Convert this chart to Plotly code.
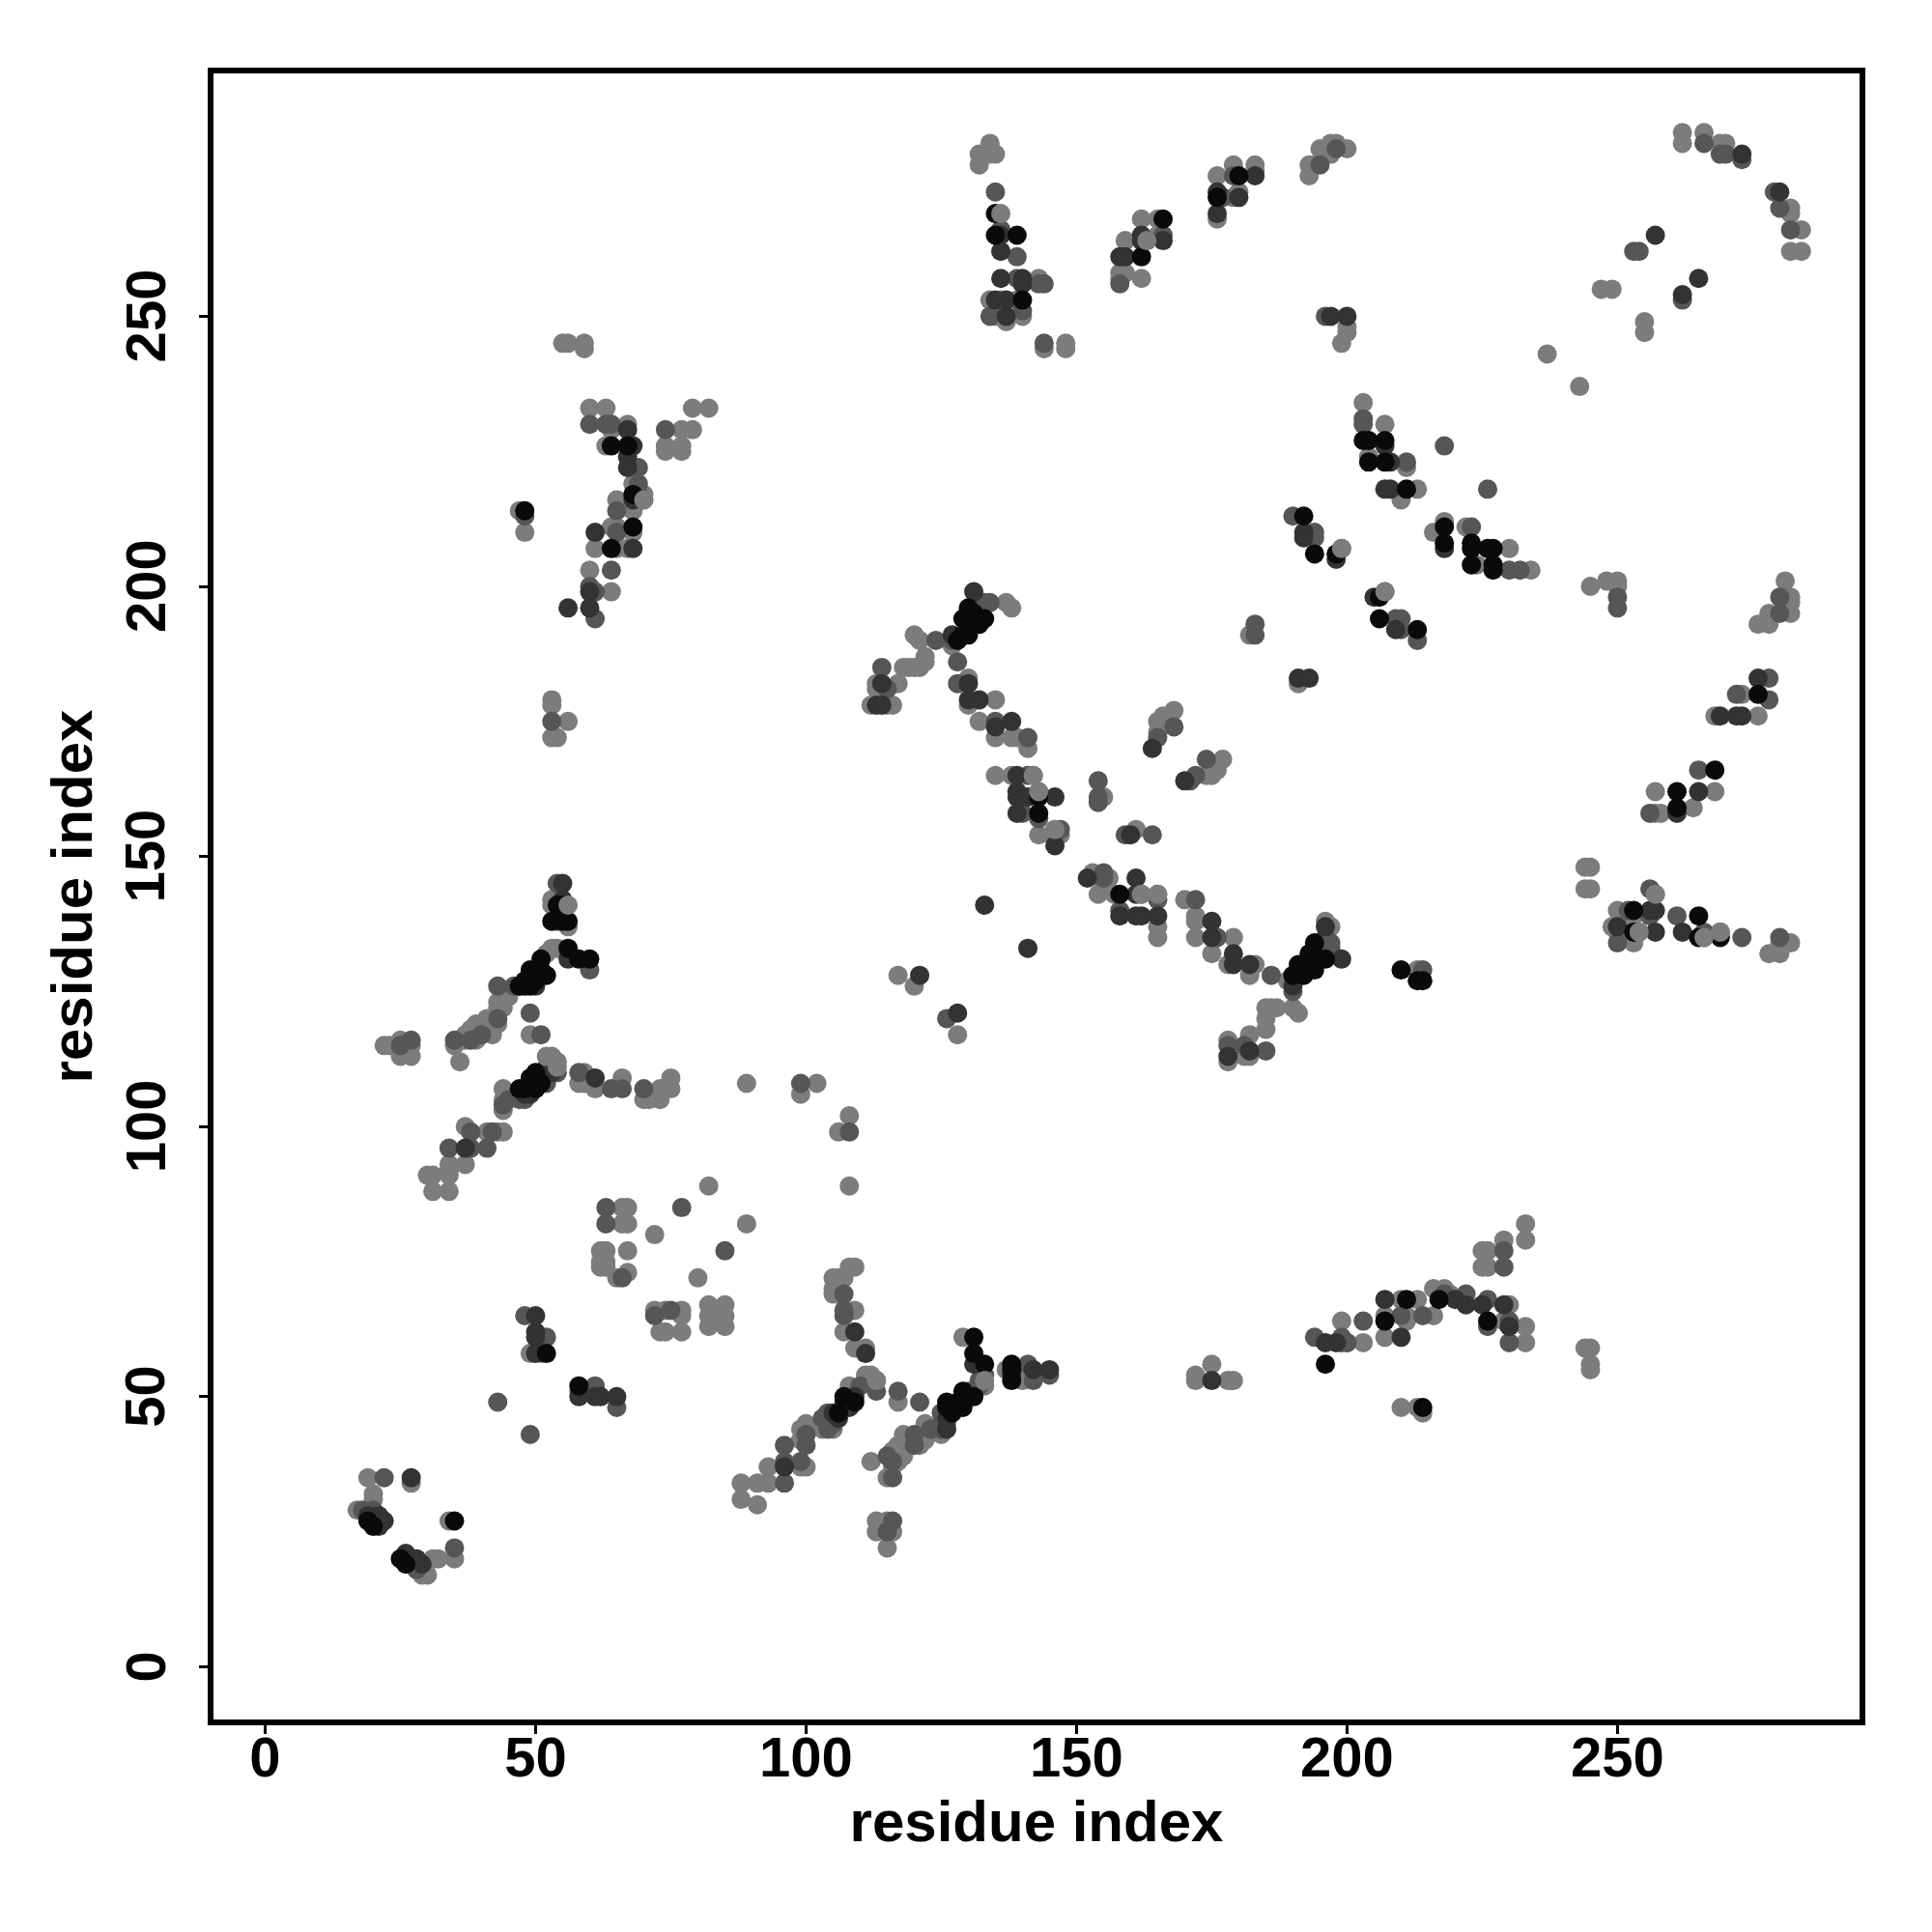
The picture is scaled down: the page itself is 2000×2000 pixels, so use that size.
import plotly.graph_objects as go

light = [
(53,142),(53,141),(56,137),(53,133),(54,133),(52,132),(44,125),(45,124),(43,123),(43,122),(44,122),(41,120),(43,119),(39,119),(38,118),(37,117),(39,116),(42,117),(35,115),(37,116),
(49,117),(22,115),(23,115),(25,116),(25,113),(27,113),(27,115),(36,112),
(45,106),(44,107),(44,103),(44,105),(41,99),(43,99),(44,99),(37,100),(34,93),(37,93),(34,92),(31,91),(30,91),(34,91),(31,88),(34,88),
(58,108),(59,108),(59,110),(61,107),(66,109),(70,105),(71,105),(73,105),(73,107),(75,107),(75,109),(89,108),
(82,89),(66,85),(67,85),(66,82),(67,82),(72,80),(89,82),(80,72),(62,77),(63,77),(67,77),(62,74),(63,74),(62,75),(63,75),(67,73),(65,72),
(72,66),(74,66),(77,66),(77,65),(73,62),(74,62),(77,62),(82,67),(82,65),(85,67),(85,65),(82,63),(85,63),
(99,106),(102,108),(108,102),(106,99),(108,89),(49,58),(51,58),(58,51),
(19,35),(27,34),(20,32),(20,31),(17,29),(34,27),(35,20),(31,20),(32,20),(29,17),(30,17),
(108,74),(109,74),(105,72),(106,72),(107,72),(105,70),(106,69),(105,69),(109,66),(107,62),(109,59),(111,59),(111,54),(112,54),(113,53),(117,49),(108,52),
(103,45),(103,44),(105,44),(100,45),(99,44),(99,42),(100,37),(99,37),(93,37),(93,34),(91,34),(88,34),(88,31),(91,30),
(129,61),(133,52),(126,45),(122,45),(125,43),(118,43),(119,41),(121,41),(122,42),(117,41),(116,40),(117,38),(118,39),(116,37),(115,35),(112,38),
(113,27),(115,27),(113,25),(116,25),(115,22),(137,55),(141,54),(140,53),
(172,54),(172,53),(175,56),(178,53),(179,53),(199,64),(200,60),(203,60),(207,65),(207,61),(210,68),(211,64),(211,65),(213,68),(216,65),(216,70),(218,70),(219,69),(230,67),(229,64),(233,63),(233,60),
(210,48),(213,48),(214,47),(233,82),(233,79),(229,79),(225,77),(226,77),(225,74),(226,74),(244,59),(245,59),(245,56),(245,55),
(60,233),(63,233),(64,229),(67,230),(63,226),(68,219),(70,217),(70,216),(68,214),(65,216),(68,210),(65,211),(64,211),(61,207),(65,207),(67,207),(60,203),(64,199),(47,214),(48,210),
(79,233),(82,233),(77,229),(79,229),(74,226),(74,225),(77,226),(77,225),(55,245),(56,245),(59,245),(59,244),(53,179),(53,178),(56,175),(53,172),(54,172),
(137,197),(138,196),(127,189),(120,191),(121,190),(122,187),(122,186),(121,185),(120,185),(118,185),(119,185),(113,182),(113,181),(117,182),(112,178),(115,178),(116,178),
(130,183),(130,178),(135,179),(132,175),(135,172),(138,172),(139,172),(141,170),(135,165),(138,165),(142,165),(143,162),(143,154),(146,155),(147,154),(146,153),
(155,161),(168,177),(166,176),(165,175),(165,173),(177,168),(176,166),(175,165),(174,165),(161,155),(153,147),(156,146),(155,145),(154,143),(157,143),(162,143),(165,143),(165,137),(165,135),(170,142),
(172,139),(172,138),(172,135),(179,135),(175,132),(178,130),(183,130),(182,128),(189,127),(196,138),(197,137),
(185,122),(186,122),(187,122),(190,122),(191,121),(185,120),(185,118),(182,117),(178,116),(178,112),(181,113),(182,113),(213,129),(117,128),(120,126),(128,117),
(134,282),(132,280),(132,278),(134,280),(135,280),(136,266),(143,257),(134,253),(136,253),(139,253),(135,250),(137,249),(140,250),(144,244),(148,245),(148,244),
(162,268),(165,268),(159,264),(163,264),(165,265),(158,258),(159,258),(158,257),(162,257),(176,276),(179,278),(183,278),(183,277),(179,272),(180,273),(176,268),
(193,278),(193,276),(194,278),(195,281),(197,282),(198,282),(197,280),(200,281),(200,248),(200,247),(199,245),
(262,284),(262,282),(266,284),(269,282),(270,282),(282,270),(282,269),(284,266),(282,262),(284,262),(247,255),(249,255),(255,249),(255,247),(237,243),(243,237),
(203,234),(207,230),(204,224),(211,222),(213,218),(210,216),(199,207),(207,199),(216,210),(218,212),(222,211),(224,204),(230,207),(234,203),(182,191),(191,182),
(281,201),(282,198),(282,197),(278,195),(282,195),(276,193),(278,193),(245,200),(248,201),(250,201),(250,200),(273,180),(268,176),(276,176),(268,162),(257,162),(257,158),(258,158),(264,159),
(244,148),(245,148),(244,144),(245,144),(257,143),(250,140),(253,139),(249,137),(252,137),(254,136),(266,135),(269,136),(250,136),(253,134),(282,134),(280,134),(278,132),(280,132),
]
mid = [
(54,145),(54,138),(60,129),(47,126),(46,126),(43,126),(43,120),(40,117),(38,116),(35,116),(49,121),(51,117),(27,116),(25,115),
(52,111),(54,110),(52,109),(52,108),(48,105),(47,105),(45,105),(44,104),(42,99),(38,99),(38,96),(34,96),(41,96),
(58,110),(64,107),(66,107),(70,107),(77,85),(63,85),(63,82),(85,77),(66,72),(72,65),(75,66),
(99,108),(108,99),(48,65),(52,61),(61,52),(65,48),(43,49),(49,43),(22,35),(18,29),(20,29),(35,22),(27,20),(28,18),
(107,69),(107,66),(107,65),(113,51),(117,51),(110,52),(104,47),(103,46),(105,45),(104,44),(100,43),(100,41),(96,41),(96,38),(99,38),(96,34),
(133,54),(132,53),(132,52),(130,51),(125,47),(125,45),(125,44),(123,44),(120,43),(120,41),(115,39),(116,38),(116,35),(121,49),(116,27),(115,25),(141,56),(142,53),(145,54),
(194,61),(199,60),(203,64),(199,61),(200,60),(210,65),(214,65),(218,69),(222,69),(226,68),(226,63),(230,64),(230,60),(229,77),(229,74),
(60,230),(63,230),(64,230),(69,222),(69,219),(69,217),(65,214),(65,210),(64,203),(60,200),(61,199),(61,194),(48,213),(74,229),(53,175),
(134,197),(133,197),(132,195),(127,190),(124,190),(128,186),(114,185),(115,181),(128,182),(135,175),(141,172),(141,165),(140,158),(143,157),(147,155),
(154,164),(154,161),(154,160),(168,174),(165,172),(174,168),(172,165),(171,164),(159,154),(164,154),(155,147),(155,146),(165,142),(158,140),(172,142),
(176,135),(186,128),(197,134),(197,133),(196,135),(195,134),(190,125),(178,115),(181,115),(185,114),(214,129),(126,120),
(135,273),(136,266),(139,261),(139,257),(144,256),(143,256),(134,250),(144,245),(140,251),
(166,265),(158,256),(179,276),(177,272),(195,278),(198,281),(196,250),
(266,282),(269,280),(270,280),(273,279),(279,273),(280,270),(282,266),(253,262),(254,262),(262,253),
(203,231),(203,230),(211,223),(218,226),(226,218),(190,213),(194,210),(194,209),(223,211),(230,203),(232,203),(209,194),(210,194),(210,192),(213,190),(183,193),(183,191),
(280,198),(280,195),(250,198),(250,196),(278,183),(272,180),(278,179),(265,166),(256,158),(256,144),(252,140),(261,139),(256,139),(266,136),(250,134),(273,135),(280,135),
]
dark = [
(55,145),(55,142),(56,131),(50,126),(51,109),(50,108),(49,106),(53,110),(48,106),(37,96),(61,109),
(50,65),(50,62),(50,61),(50,58),(58,50),(61,50),(62,50),(65,50),(27,35),(19,28),(21,26),(22,27),(21,28),(26,21),(28,20),(29,19),
(109,62),(111,58),(109,50),(107,49),(108,48),(105,47),(106,46),(96,37),(131,56),(126,46),(126,44),(138,54),(142,55),(145,55),
(175,53),(198,60),(196,60),(207,68),(210,61),(220,68),(222,67),(225,67),(229,67),(230,63),
(67,229),(68,226),(67,224),(67,222),(68,216),(61,210),(68,207),(60,199),(56,196),(60,196),
(131,199),(127,191),(114,182),(113,178),(114,178),(130,182),(130,179),(132,179),(135,174),(138,175),(139,165),(139,162),(139,161),(141,161),(146,161),(139,158),(146,152),
(133,141),(141,133),(164,170),(170,164),(160,154),(152,146),(161,146),(158,139),(161,143),(161,139),(162,139),(165,139),
(175,138),(175,135),(179,132),(179,130),(182,130),(199,131),(190,126),(196,137),(178,113),(182,114),(121,128),(128,121),
(136,265),(136,262),(136,257),(140,257),(140,256),(137,253),(137,250),(135,253),
(162,265),(162,264),(166,264),(158,261),(159,261),(183,276),(176,273),(180,272),(176,269),(197,250),(200,250),
(273,280),(280,273),(257,265),(265,257),(262,254),
(207,226),(208,218),(207,218),(208,223),(192,210),(192,209),(198,205),(218,207),(205,198),(209,192),(191,183),(193,183),
(276,183),(269,176),(272,176),(273,176),(265,162),(261,158),(256,140),(257,140),(250,137),(257,136),(262,136),
]
black = [
(53,138),(55,141),(54,141),(55,138),(56,138),(56,133),(58,131),(60,131),(51,131),(51,129),(49,129),(49,128),(52,128),(50,127),(48,127),(47,126),(49,126),(48,126),
(50,110),(49,109),(51,108),(48,107),(47,107),(50,107),
(52,58),(58,52),(19,27),(20,26),(35,27),(25,20),(26,19),
(109,49),(107,50),(106,47),(131,61),(131,58),(133,56),(131,50),(129,51),(128,49),(129,48),(126,49),(126,48),(127,47),(138,56),(138,55),(138,53),
(196,56),(207,64),(211,68),(217,68),(226,64),(214,48),
(64,226),(67,226),(68,217),(68,211),(64,207),(48,214),
(130,196),(131,195),(133,194),(131,193),(129,194),(132,193),(129,191),(130,191),(128,190),
(143,161),(143,158),(158,143),(196,131),(194,134),(193,132),(194,129),(191,130),(192,128),(190,128),(193,130),(195,131),
(210,129),(213,127),(214,127),(135,269),(135,265),(139,265),(140,253),(166,268),(162,261),(180,276),(176,272),
(203,227),(204,227),(207,227),(204,223),(207,223),(211,218),(192,213),(194,206),(198,206),(218,211),(218,208),(223,208),(223,207),(226,207),(227,207),(223,204),(227,204),(227,203),
(206,198),(206,194),(213,192),(276,180),(268,166),(261,162),(261,159),(253,140),(253,136),(265,139),(265,135),(269,135),
]
light_top = [(56,141),(54,112),(53,113),(52,113),(54,111),(113,53),(136,269),(133,53),(163,264),(162,143),(165,143),(199,207),(207,199),(266,135),(269,136),(254,136),(257,143),(143,162),(146,155),(70,216),(142,165)]

x_ticks = [0, 50, 100, 150, 200, 250]
y_ticks = [0, 50, 100, 150, 200, 250]
axis_title = "residue index"

fig = go.Figure()
for pts, col in [(light, "#7c7c7c"), (mid, "#565656"), (dark, "#333333"), (black, "#0a0a0a"), (light_top, "#7c7c7c")]:
    fig.add_trace(go.Scatter(x=[p[0] for p in pts], y=[p[1] for p in pts], mode="markers",
                             marker=dict(size=20, color=col, line=dict(width=0)), showlegend=False))

tick_font = dict(family="Liberation Sans", size=58, color="black", weight="bold")
title_font = dict(family="Liberation Sans", size=60, color="black", weight="bold")
common = dict(showgrid=False, zeroline=False, showline=True, mirror=True, linecolor="black", linewidth=6,
              ticks="outside", ticklen=9, tickwidth=3, tickcolor="black", tickfont=tick_font)
fig.update_layout(
    width=2000, height=2000, paper_bgcolor="white", plot_bgcolor="white",
    margin=dict(l=212.5, r=83, t=67.5, b=227.5, pad=0),
    xaxis=dict(range=[-9.55, 294.75], tickvals=x_ticks, ticklabelstandoff=-26,
               title=dict(text=axis_title, font=title_font, standoff=16), **common),
    yaxis=dict(range=[-9.75, 294.95], tickvals=y_ticks, showticklabels=False,
               title=dict(text=axis_title, font=title_font, standoff=93), **common),
)
for t in y_ticks:
    fig.add_annotation(x=0, xref="paper", y=t, yref="y", text=str(t), textangle=-90, showarrow=False,
                       xanchor="center", yanchor="middle", xshift=-71, font=tick_font)
fig.write_html("out.html")
